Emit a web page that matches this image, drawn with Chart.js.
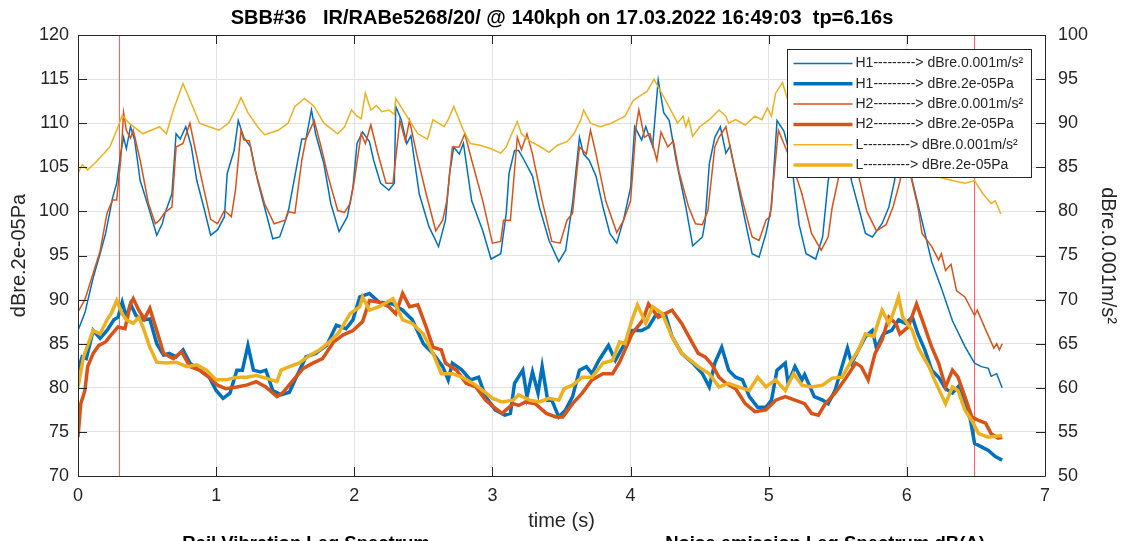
<!DOCTYPE html>
<html lang="en">
<head>
<meta charset="UTF-8">
<title>SBB#36 Leq</title>
<script src="https://cdn.jsdelivr.net/npm/chart.js"></script>
<style>
    body { margin: 0; background: #fff; }
    #wrap { width: 1124px; height: 541px; }
</style>
</head>
<body>
<div id="wrap"><canvas id="myChart" width="1124" height="541"></canvas></div>
<script>
// time axis (s) and levels
// thin lines -> right axis (dBre.0.001m/s²), thick lines -> left axis (dBre.2e-05Pa)
const tH1acc = [0,0.05,0.11,0.16,0.2,0.25,0.28,0.31,0.33,0.35,0.38,0.41,0.45,0.51,0.57,0.61,0.63,0.68,0.71,0.74,0.78,0.82,0.86,0.91,0.96,1.01,1.06,1.08,1.13,1.16,1.2,1.25,1.3,1.35,1.41,1.46,1.52,1.57,1.62,1.65,1.69,1.72,1.78,1.83,1.89,1.95,1.99,2.02,2.06,2.11,2.14,2.19,2.25,2.29,2.3,2.34,2.38,2.41,2.47,2.54,2.61,2.66,2.69,2.72,2.76,2.79,2.85,2.93,2.99,3.06,3.1,3.12,3.16,3.19,3.23,3.29,3.34,3.41,3.48,3.53,3.58,3.63,3.66,3.7,3.75,3.8,3.85,3.9,3.95,4.0,4.03,4.08,4.11,4.16,4.2,4.24,4.28,4.33,4.4,4.45,4.52,4.54,4.57,4.61,4.65,4.69,4.72,4.78,4.83,4.88,4.93,4.98,5.02,5.06,5.11,5.16,5.22,5.27,5.34,5.39,5.43,5.48,5.53,5.6,5.65,5.7,5.75,5.82,5.87,5.91,5.95,5.99,6.04,6.11,6.18,6.25,6.33,6.42,6.49,6.54,6.59,6.61,6.65,6.69];
const H1acc = [66.5,68.5,72.5,75.2,77.5,81.5,83.2,86.7,88.4,87.1,89.6,88.1,83.5,80.5,77.3,78.6,79.8,82,88.8,88.2,89.6,87.4,83.5,80.5,77.3,77.9,79.4,84.3,86.9,90.3,88.4,87.3,83.5,80.5,76.9,77.1,79.8,84,88.2,88.2,91.5,88.8,85.4,80.9,77.7,79.4,82.7,87.7,89.0,87.9,85.8,83.2,82.4,83.2,91.9,90.4,87.7,88.6,82.0,78.3,76.0,79,84.3,87.3,86.5,87.7,81.2,77.8,74.6,75.2,79.8,84.3,86.9,86.9,85.8,84,80.5,76.7,74.3,75.6,80.9,88.4,86.5,85.8,84,80.5,77.5,76.4,79.1,82.7,89.6,88.1,89.6,87.4,94.9,91.2,90.3,85.8,80.5,76.1,77.1,78.9,85.4,88.4,89.6,86.6,87.4,82.8,78.9,75.2,74.8,77.5,80.5,90.3,89.1,86,78.5,75.2,74.6,77.1,83.4,88,89.5,83.4,80.5,77.5,77.1,78.6,80.5,83.4,88,87,83.4,78.9,74.3,71.3,67.6,64.7,62.8,62.4,62.2,61.3,61.6,60.0];

const tH2acc = [0,0.05,0.11,0.16,0.21,0.25,0.28,0.31,0.33,0.35,0.38,0.4,0.45,0.51,0.56,0.59,0.63,0.68,0.71,0.76,0.81,0.84,0.89,0.96,1.01,1.06,1.11,1.14,1.18,1.2,1.24,1.28,1.35,1.42,1.5,1.52,1.57,1.62,1.65,1.71,1.76,1.81,1.88,1.93,1.97,2.0,2.05,2.08,2.12,2.17,2.23,2.28,2.33,2.37,2.4,2.45,2.52,2.59,2.64,2.67,2.71,2.76,2.8,2.85,2.93,3.0,3.06,3.08,3.13,3.18,3.21,3.25,3.29,3.36,3.43,3.49,3.54,3.58,3.63,3.68,3.71,3.75,3.82,3.9,3.95,4.0,4.04,4.06,4.1,4.14,4.19,4.22,4.27,4.31,4.35,4.42,4.47,4.52,4.56,4.61,4.64,4.69,4.74,4.81,4.88,4.93,4.98,5.01,5.07,5.12,5.17,5.24,5.31,5.38,5.43,5.46,5.5,5.55,5.6,5.66,5.71,5.78,5.85,5.9,5.95,5.99,6.03,6.08,6.11,6.18,6.23,6.25,6.28,6.32,6.36,6.42,6.49,6.51,6.57,6.63,6.65,6.67,6.69];
const H2acc = [68.6,70,73,75.5,79.8,81.3,81.3,86,91.2,89.2,88.3,89.2,85.8,80.9,78.6,79,79.9,80.5,87.3,87.7,90,87.7,84,79.1,78.6,80.1,79.4,82.4,89.2,88.1,88,84.8,80.9,78.6,79,80,79.8,85.8,88.2,90.3,87.3,84,80.1,79.9,80.9,83.5,88.8,87.7,89.8,86.6,83.2,83.2,90.3,88,90.3,86.6,82,77.8,79,81.2,87.3,87.3,88.8,85.8,81.2,76.4,76.6,79,79,88.4,87,88.8,86.5,81.2,76.6,76.4,79,79.8,87.3,86.5,89.2,86.5,81.2,77.6,79,81.2,89.6,91.5,88.4,88.8,85.8,89,87.3,88,84.5,80.5,78.6,78.5,80.1,87.3,88.4,89.6,85.8,81.2,77.1,76.7,79,79.4,89.2,87.3,85.4,82,77.5,75.6,77.1,80.5,83.4,88,88.5,83.4,80,77.8,78.5,80.5,83.4,87,83.9,80.5,77.5,76,74.5,75.2,73.3,74,71,70.3,68.2,68.8,66.6,64.5,65,64.3,65];

const tLacc = [0,0.03,0.07,0.13,0.23,0.29,0.32,0.37,0.47,0.59,0.64,0.69,0.76,0.83,0.88,0.95,1.02,1.09,1.14,1.18,1.23,1.3,1.35,1.45,1.52,1.57,1.64,1.71,1.78,1.88,1.93,1.98,2.02,2.05,2.08,2.12,2.16,2.2,2.25,2.29,2.3,2.38,2.46,2.53,2.57,2.65,2.68,2.72,2.79,2.84,2.91,2.99,3.06,3.1,3.14,3.18,3.21,3.27,3.35,3.41,3.47,3.54,3.59,3.64,3.66,3.71,3.78,3.86,3.91,3.96,4.02,4.08,4.12,4.17,4.19,4.24,4.29,4.34,4.38,4.4,4.42,4.45,4.5,4.57,4.64,4.69,4.71,4.76,4.83,4.9,4.95,4.99,5.02,5.05,5.1,5.14,5.2,5.3,5.4,5.5,5.6,5.7,5.8,5.9,6.0,6.1,6.2,6.23,6.33,6.42,6.49,6.55,6.61,6.64,6.68];
const Lacc = [84.3,85.3,84.7,85.6,87.3,89.6,90.9,90,88.8,89.6,88.8,91.5,94.5,91.9,90,89.6,89.2,90,91.5,92.9,91.2,89.6,88.7,89.2,90,91.9,92.8,91.9,90,88.8,89.6,91.5,90.8,90.5,93.4,91.5,92,91.3,91.5,91,92.8,90.8,88.8,88.2,90.4,89.6,90.4,91.9,89.2,87.7,87.5,87.1,86.6,87.3,88.8,90.2,88.8,88,87.3,86.7,87.5,87.9,88.8,90.4,91.5,90,89.6,90,90.4,90.8,92.6,93.2,93.6,95,94.4,93,91.5,90,90.8,89.6,90.5,88.5,89.6,90.4,91.5,90.8,90,90.4,89.8,90.8,90.4,91.7,90.8,93.4,94.6,92.5,90.8,90,89.5,90.5,91,90,89.5,90.5,90,87.5,84.5,83.9,83.5,83.2,83.5,82,80.9,81.2,79.7];

const tH1pa = [0,0.03,0.06,0.11,0.16,0.21,0.26,0.29,0.32,0.35,0.38,0.42,0.47,0.52,0.57,0.62,0.66,0.71,0.76,0.81,0.88,0.95,1.0,1.05,1.1,1.15,1.19,1.23,1.27,1.32,1.36,1.41,1.47,1.53,1.58,1.65,1.72,1.8,1.87,1.94,1.99,2.04,2.11,2.18,2.28,2.35,2.42,2.5,2.57,2.64,2.68,2.71,2.78,2.84,2.9,2.95,3.02,3.09,3.13,3.16,3.22,3.25,3.29,3.33,3.36,3.4,3.43,3.48,3.53,3.58,3.63,3.68,3.72,3.77,3.84,3.89,3.95,4.01,4.08,4.13,4.18,4.25,4.3,4.37,4.45,4.52,4.57,4.61,4.66,4.71,4.76,4.81,4.86,4.92,4.98,5.02,5.06,5.12,5.14,5.19,5.24,5.26,5.33,5.39,5.43,5.48,5.53,5.57,5.6,5.65,5.7,5.75,5.78,5.83,5.89,5.94,5.99,6.04,6.08,6.13,6.18,6.23,6.28,6.33,6.37,6.42,6.46,6.49,6.54,6.59,6.64,6.69];
const H1pa = [82,83.5,83.3,86.5,85.6,86.5,87.7,88,89.7,88,89.5,88.2,87.7,87.8,85,83.7,83.9,83.5,84.3,82.8,82,81.2,79.7,78.8,79.4,82,82,84.8,82,81.8,82,79.7,79.2,79.5,81.2,83.5,83.9,84.8,87.1,86.7,87.7,90.3,90.7,89.7,89.5,88.8,87.7,85,83.9,82.4,80.9,82.8,82,80.9,81.2,79,77.5,76.9,77.1,80.5,82,79,81.8,79.4,82.4,78.6,78.6,76.7,77.5,79,82,82.4,81.6,83.1,84.8,83.1,84.8,86.5,86.5,86.9,88.2,88.4,85.8,83.9,82.8,81.6,80.1,82.8,84.6,82,81.2,80.9,79,77.8,77.8,78.6,82,82.8,80.5,82.4,80.9,81.5,79,78.6,78.2,79.7,82.4,84.5,82.8,84.3,85.8,86.5,84.5,86.1,86.5,87.7,87.3,88,86.1,84.3,82,81.2,79.9,79.4,80.1,78.2,76.4,73.7,73.3,72.9,72.2,71.8];

const tH2pa = [0,0.02,0.05,0.07,0.11,0.15,0.2,0.24,0.29,0.34,0.38,0.4,0.44,0.48,0.52,0.57,0.62,0.69,0.75,0.81,0.88,0.95,1.01,1.07,1.15,1.22,1.29,1.36,1.44,1.48,1.56,1.63,1.7,1.77,1.85,1.92,1.99,2.06,2.11,2.18,2.25,2.3,2.35,2.4,2.46,2.52,2.57,2.63,2.66,2.74,2.81,2.88,2.95,3.01,3.07,3.15,3.19,3.24,3.31,3.39,3.46,3.51,3.58,3.65,3.72,3.8,3.87,3.92,3.96,4.01,4.09,4.13,4.2,4.3,4.37,4.45,4.49,4.54,4.59,4.64,4.69,4.76,4.83,4.9,4.98,5.05,5.12,5.19,5.26,5.31,5.36,5.41,5.48,5.55,5.63,5.67,5.72,5.77,5.82,5.87,5.92,5.95,6.01,6.07,6.12,6.18,6.23,6.28,6.33,6.37,6.42,6.47,6.52,6.57,6.61,6.66,6.69];
const H2pa = [74.4,78.2,79.7,82.4,83.9,84.8,85.2,86,86.9,86.7,89.5,90.1,88.8,87.8,89,86.5,83.9,83.3,84.1,82.4,82,81.2,80.3,79.9,80.1,80.3,80.7,80.1,79,79.4,80.9,82.2,82.8,83.3,85.2,86,86.5,87.5,89.9,89.7,89.2,88.4,90.7,89.2,89.4,86.9,84.6,84.3,82.8,82,80.5,80.1,78.6,77.8,77.1,78.2,78,78.4,78.2,77.1,76.7,76.7,78.2,79.4,80.9,81.6,81.6,82.9,84.3,86.1,87.7,89.5,88,88.8,87.3,85,83.9,83.5,82.6,81.2,80.5,79.9,78.2,77.3,77.5,78.6,79,78.6,78.2,77.1,76.9,78.2,79.4,80.9,82.8,82.4,80.9,83.9,85.4,88,87.3,86.1,86.9,89.5,87.3,84.6,82.8,80.1,82,81.2,79,76.7,76.3,76,74.8,74.3,74.4];

const tLpa = [0,0.04,0.07,0.11,0.16,0.21,0.24,0.28,0.32,0.35,0.4,0.44,0.47,0.52,0.57,0.64,0.71,0.79,0.86,0.93,1.0,1.07,1.15,1.22,1.29,1.36,1.44,1.47,1.53,1.6,1.68,1.75,1.82,1.89,1.97,2.04,2.06,2.11,2.18,2.28,2.35,2.42,2.5,2.57,2.63,2.71,2.78,2.86,2.93,3.0,3.07,3.15,3.19,3.27,3.34,3.41,3.48,3.52,3.58,3.65,3.72,3.8,3.87,3.92,3.96,4.01,4.05,4.11,4.16,4.23,4.3,4.37,4.45,4.49,4.57,4.64,4.71,4.78,4.86,4.92,4.98,5.05,5.12,5.18,5.24,5.31,5.39,5.46,5.53,5.6,5.65,5.7,5.76,5.82,5.87,5.9,5.94,5.97,6.04,6.08,6.16,6.2,6.28,6.33,6.37,6.42,6.47,6.52,6.59,6.69];
const Lpa = [80.1,83.5,84.8,86.5,86.1,87.7,88.4,89.9,88.4,87.7,87.3,88,86.9,84.6,82.9,82.8,82.9,82.4,82.6,82,80.9,80.9,81.2,81.2,81.4,81.1,80.7,82,82.4,82.8,83.7,84.3,85.2,86.3,88.4,89.2,90.3,88.8,89.2,90.1,87.7,87.3,86.1,83.9,81.6,81.6,81.2,80.5,79.7,78.8,78.4,78.6,79.2,78.6,78.4,78.8,78.6,79.9,80.3,81.2,81.2,82.8,83.1,85.2,85,87.7,89.4,87.3,89.2,88.4,85.8,83.9,82.9,82.4,81.6,80.1,80.5,80.1,79.7,81.2,80.1,80.9,79.7,81.6,80.3,80.1,80.3,81.1,81.2,83.1,84.3,86.1,85.8,88.8,87.3,88.4,90.3,88,86.5,84.6,82.4,80.9,78.2,80.1,79.7,77.5,76.3,74.8,74.4,74.6];

// red marker lines (s)
const markerTimes = [0.3, 6.49];

const seriesLabels = [
    'H1---------> dBre.0.001m/s²',
    'H1---------> dBre.2e-05Pa',
    'H2---------> dBre.0.001m/s²',
    'H2---------> dBre.2e-05Pa',
    'L----------> dBre.0.001m/s²',
    'L----------> dBre.2e-05Pa'
];

const FONT = '"Liberation Sans", Arial, Helvetica, sans-serif';
const INK = '#262626';
const BLUE = '#0072BD', ORANGE = '#D95319', YELLOW = '#EDB120';

function pts(t, v) {
    return t.map((x, i) => ({x: x, y: v[i]}));
}

function line(label, t, v, color, width, axis, order) {
    return {
        label: label,
        data: pts(t, v),
        borderColor: color,
        backgroundColor: color,
        borderWidth: width,
        pointRadius: 0,
        tension: 0,
        fill: false,
        yAxisID: axis,
        order: order
    };
}

const datasets = [
    line(seriesLabels[0], tH1acc, H1acc, BLUE, 1.5, 'y2', 6),
    line(seriesLabels[1], tH1pa, H1pa, BLUE, 3.5, 'y', 3),
    line(seriesLabels[2], tH2acc, H2acc, ORANGE, 1.5, 'y2', 5),
    line(seriesLabels[3], tH2pa, H2pa, ORANGE, 3.5, 'y', 2),
    line(seriesLabels[4], tLacc, Lacc, YELLOW, 1.5, 'y2', 4),
    line(seriesLabels[5], tLpa, Lpa, YELLOW, 3.5, 'y', 1)
];

// vertical red markers
markerTimes.forEach(m => {
    datasets.push({
        label: '',
        data: [{x: m, y: 70}, {x: m, y: 120}],
        borderColor: 'rgba(255,60,60,0.85)',
        borderWidth: 1,
        pointRadius: 0,
        yAxisID: 'y',
        order: 10
    });
});

// MATLAB-like box, inward ticks, custom legend and clipped sub-captions
const matlabLook = {
    id: 'matlabLook',
    afterDatasetsDraw(chart) {
        const {ctx, chartArea: a, scales} = chart;
        ctx.save();
        ctx.strokeStyle = INK;
        ctx.lineWidth = 1;
        ctx.beginPath();
        ctx.rect(Math.round(a.left) + 0.5, Math.round(a.top) + 0.5, Math.round(a.right - a.left), Math.round(a.bottom - a.top));
        ctx.stroke();

        const tl = 9;
        ctx.beginPath();
        scales.x.ticks.forEach(tk => {
            const px = Math.round(scales.x.getPixelForValue(tk.value)) + 0.5;
            ctx.moveTo(px, a.bottom); ctx.lineTo(px, a.bottom - tl);
            ctx.moveTo(px, a.top); ctx.lineTo(px, a.top + tl);
        });
        scales.y.ticks.forEach(tk => {
            const py = Math.round(scales.y.getPixelForValue(tk.value)) + 0.5;
            ctx.moveTo(a.left, py); ctx.lineTo(a.left + tl, py);
        });
        scales.y2.ticks.forEach(tk => {
            const py = Math.round(scales.y2.getPixelForValue(tk.value)) + 0.5;
            ctx.moveTo(a.right, py); ctx.lineTo(a.right - tl, py);
        });
        ctx.stroke();

        // legend box
        const lx = 787.5, ly = 49.5, lw = 244, lh = 128;
        ctx.fillStyle = '#fff';
        ctx.fillRect(lx, ly, lw, lh);
        ctx.strokeStyle = INK;
        ctx.strokeRect(lx, ly, lw, lh);
        ctx.font = '14px ' + FONT;
        ctx.textBaseline = 'middle';
        ctx.textAlign = 'left';
        for (let i = 0; i < 6; i++) {
            const ds = chart.data.datasets[i];
            const yy = ly + 14 + i * 20.3;
            ctx.strokeStyle = ds.borderColor;
            ctx.lineWidth = ds.borderWidth;
            ctx.beginPath();
            ctx.moveTo(lx + 6, yy); ctx.lineTo(lx + 65, yy);
            ctx.stroke();
            ctx.fillStyle = INK;
            ctx.fillText(ds.label, lx + 68, yy);
        }

        // captions of the panels below (cut by the window)
        ctx.fillStyle = '#000';
        ctx.font = 'bold 18.5px ' + FONT;
        ctx.textAlign = 'center';
        ctx.textBaseline = 'top';
        ctx.fillText('Rail Vibration Leq Spectrum', 306, 535);
        ctx.fillText('Noise emission Leq Spectrum dB(A)', 825, 535);
        ctx.restore();
    }
};

const tickFont = {family: FONT, size: 18};
const labelFont = {family: FONT, size: 20};

new Chart(document.getElementById('myChart').getContext('2d'), {
    type: 'line',
    data: {datasets: datasets},
    options: {
        responsive: false,
        animation: false,
        layout: {padding: 0},
        plugins: {
            legend: {display: false},
            tooltip: {enabled: false},
            title: {
                display: true,
                text: 'SBB#36   IR/RABe5268/20/ @ 140kph on 17.03.2022 16:49:03  tp=6.16s',
                color: '#000',
                font: {family: FONT, size: 20, weight: 'bold'},
                padding: {top: 6, bottom: 5}
            }
        },
        scales: {
            x: {
                type: 'linear',
                min: 0, max: 7,
                ticks: {stepSize: 1, color: INK, font: tickFont, padding: 9, maxRotation: 0},
                grid: {color: '#e3e3e3', drawTicks: false},
                border: {display: false},
                title: {display: true, text: 'time (s)', color: INK, font: labelFont, padding: {top: 0, bottom: 8}},
                afterFit: s => { s.height = 65; }
            },
            y: {
                position: 'left',
                min: 70, max: 120,
                ticks: {stepSize: 5, color: INK, font: tickFont, padding: 9},
                grid: {color: '#e3e3e3', drawTicks: false},
                border: {display: false},
                title: {display: true, text: 'dBre.2e-05Pa', color: INK, font: labelFont, padding: {top: 7, bottom: 0}},
                afterFit: s => { s.width = 78; }
            },
            y2: {
                position: 'right',
                min: 50, max: 100,
                ticks: {stepSize: 5, color: INK, font: tickFont, padding: 13},
                grid: {display: false, drawTicks: false},
                border: {display: false},
                title: {display: true, text: 'dBre.0.001m/s²', color: INK, font: labelFont, padding: {top: 4, bottom: 0}},
                afterFit: s => { s.width = 79; }
            }
        }
    },
    plugins: [matlabLook]
});
</script>
</body>
</html>
